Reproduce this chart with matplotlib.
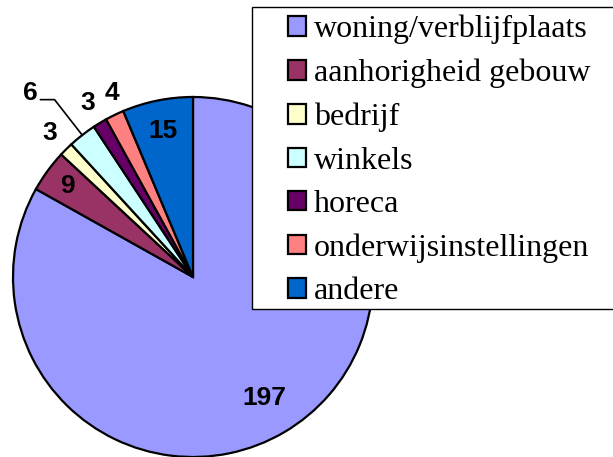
import numpy as np
import matplotlib.pyplot as plt
from matplotlib.patches import Patch, Rectangle

# data
categories = ['woning/verblijfplaats', 'aanhorigheid gebouw', 'bedrijf', 'winkels',
              'horeca', 'onderwijsinstellingen', 'andere']
counts = [197, 9, 3, 6, 3, 4, 15]
colors = ['#9999FF', '#993366', '#FFFFCC', '#CCFFFF', '#660066', '#FF8080', '#0066CC']

# label distance per slice (fraction of radius)
label_dist = [0.78, 0.86, 1.13, 1.36, 1.13, 1.12, 0.83]
# small angular nudges (degrees) so neighbouring labels don't collide
label_shift = [0, 0, 0, 0, 0, -2.0, 0]

W, H = 613, 457
fig = plt.figure(figsize=(W / 100, H / 100), dpi=100)
ax = fig.add_axes([0, 0, 1, 1])

cx, cy, R = 193, 457 - 277, 180
wedges, _ = ax.pie(counts, colors=colors, startangle=90, counterclock=False,
                   center=(cx, cy), radius=R, frame=True,
                   wedgeprops=dict(edgecolor='black', linewidth=1.6))

for w, n, d, s in zip(wedges, counts, label_dist, label_shift):
    mid = np.deg2rad((w.theta1 + w.theta2) / 2 + s)
    x = cx + d * R * np.cos(mid)
    y = cy + d * R * np.sin(mid)
    if n == 6:
        # leader line for the small 'winkels' slice
        ex, ey = cx + R * np.cos(mid), cy + R * np.sin(mid)
        kx, ky = cx + 1.25 * R * np.cos(mid), cy + 1.25 * R * np.sin(mid)
        ax.plot([ex, kx, kx - 14], [ey, ky, ky], color='black', lw=1.2)
        x, y = kx - 24, ky + 7
    ax.text(x, y, str(n), ha='center', va='center', fontsize=19,
            fontweight='bold', family='Liberation Sans', color='black')

ax.set_xlim(0, W)
ax.set_ylim(0, H)
ax.set_aspect('equal')
ax.axis('off')

# legend box drawn on top of the pie
box = Rectangle((252 / W, 1 - 309 / H), 1.0, (309 - 7) / H, transform=fig.transFigure,
                facecolor='white', edgecolor='black', linewidth=1.0, zorder=5)
fig.patches.append(box)

handles = [Patch(facecolor=c, edgecolor='black', linewidth=1.6) for c in colors]
leg = fig.legend(handles, categories, loc='upper left',
                 bbox_to_anchor=(288 / W, 1 - 15 / H),
                 prop={'family': 'Liberation Serif', 'size': 23},
                 frameon=False,
                 handlelength=0.56, handleheight=0.56, handletextpad=0.25,
                 labelspacing=0.45, borderpad=0, borderaxespad=0)
leg.set_zorder(6)

fig.savefig('out.png', dpi=100)
